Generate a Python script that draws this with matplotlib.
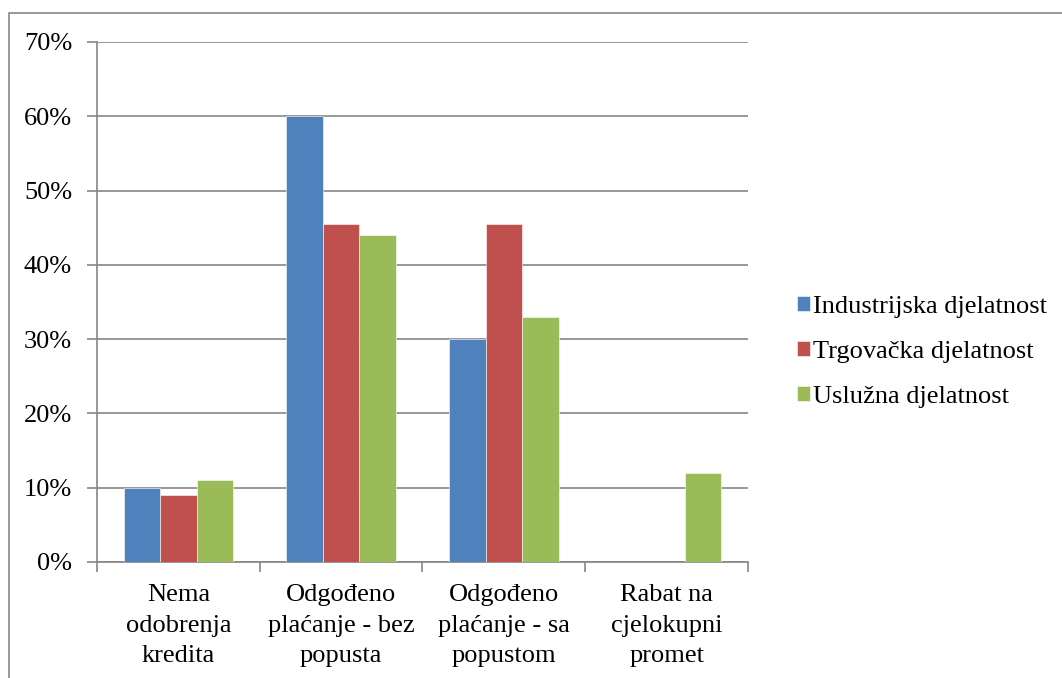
import matplotlib.pyplot as plt
import matplotlib.patches as mpatches
import numpy as np

plt.rcParams['font.family'] = ['Liberation Serif', 'DejaVu Serif']

# data
categories = ["Nema\nodobrenja\nkredita", "Odgođeno\nplaćanje - bez\npopusta",
              "Odgođeno\nplaćanje - sa\npopustom", "Rabat na\ncjelokupni\npromet"]
series_names = ["Industrijska djelatnost", "Trgovačka djelatnost", "Uslužna djelatnost"]
industrijska = [10, 60, 30, 0]
trgovacka = [9, 45.5, 45.5, 0]
usluzna = [11, 44, 33, 12]
colors = ["#4F81BD", "#C0504D", "#9BBB59"]

fig = plt.figure(figsize=(10.62, 6.78), dpi=100)
ax = fig.add_axes([97 / 1062, 1 - 562 / 678, 651 / 1062, 520 / 678])

# outer chart frame
fig.patches.append(mpatches.Rectangle((9 / 1062, -0.1), 1.2, 1 - 13 / 678 + 0.1,
                                      transform=fig.transFigure, fill=False,
                                      edgecolor="#868686", linewidth=1.2))

fs = 19
x = np.arange(len(categories))
w = 0.224
for i, vals in enumerate([industrijska, trgovacka, usluzna]):
    ax.bar(x + (i - 1) * w, vals, w, color=colors[i], label=series_names[i],
           zorder=3, edgecolor="white", linewidth=0.4)

ax.set_xlim(-0.5, 3.5)
ax.set_ylim(0, 70)
ax.set_yticks(range(0, 71, 10))
ax.set_yticklabels([f"{v}%" for v in range(0, 71, 10)], fontsize=fs)
ax.yaxis.grid(True, color="#868686", linewidth=1.2, zorder=0)

ax.set_xticks(x)
ax.set_xticklabels(categories, fontsize=fs, linespacing=1.5)
ax.tick_params(axis='x', length=0, pad=16)
ax.set_xticks(np.arange(-0.5, 4, 1), minor=True)
ax.tick_params(axis='x', which='minor', length=7, color="#868686", width=1.2)
ax.tick_params(axis='y', length=7, color="#868686", width=1.2, pad=11)

for s in ['top', 'right']:
    ax.spines[s].set_visible(False)
for s in ['left', 'bottom']:
    ax.spines[s].set_color("#868686")
    ax.spines[s].set_linewidth(1.2)

ax.legend(loc='center left', bbox_to_anchor=(773 / 1062, 1 - 352 / 678),
          bbox_transform=fig.transFigure, frameon=False, fontsize=fs,
          handlelength=0.5, handleheight=0.5, handletextpad=0.12,
          labelspacing=0.86)

fig.savefig("out.png", dpi=100)
